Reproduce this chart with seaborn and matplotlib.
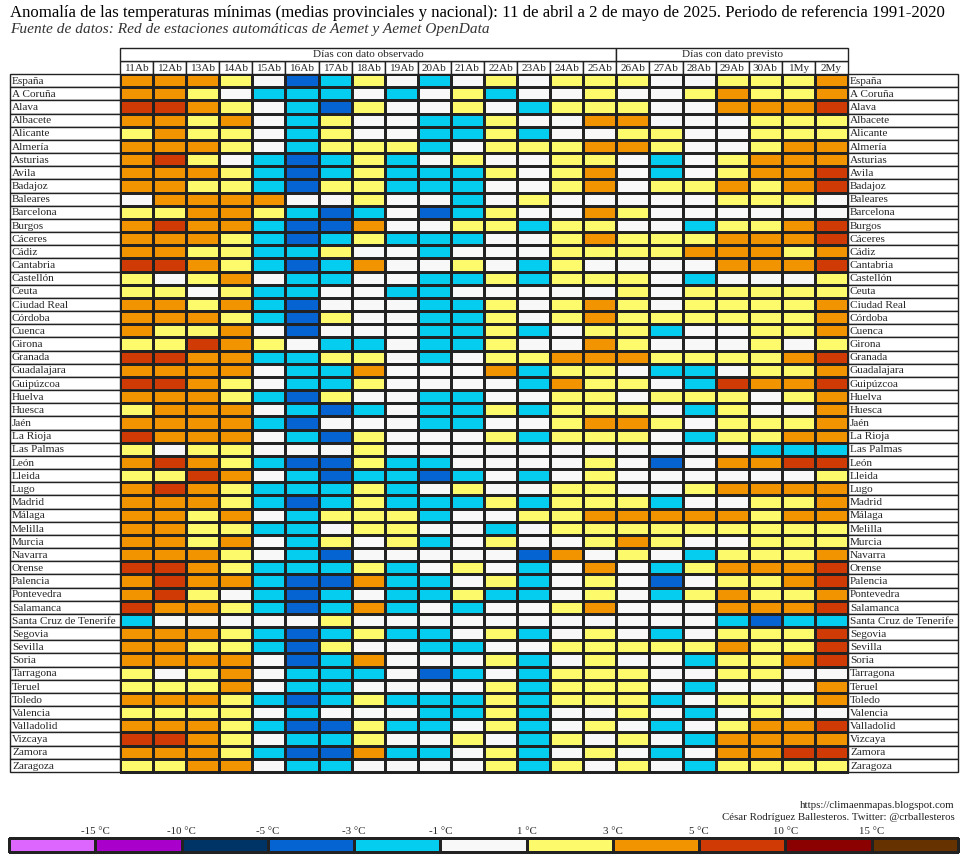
import matplotlib
matplotlib.use("Agg")
import matplotlib.pyplot as plt
from matplotlib.colors import ListedColormap, BoundaryNorm
from matplotlib.patches import Rectangle
import numpy as np
import pandas as pd
import seaborn as sns

sns.set_style("white")
plt.rcParams['font.family'] = ['Liberation Serif', 'DejaVu Serif']

# ---------------- data ----------------
days = ["11Ab", "12Ab", "13Ab", "14Ab", "15Ab", "16Ab", "17Ab", "18Ab", "19Ab", "20Ab",
        "21Ab", "22Ab", "23Ab", "24Ab", "25Ab", "26Ab", "27Ab", "28Ab", "29Ab", "30Ab",
        "1My", "2My"]
n_observed = 15

provinces = ["España", "A Coruña", "Alava", "Albacete", "Alicante", "Almería", "Asturias",
             "Avila", "Badajoz", "Baleares", "Barcelona", "Burgos", "Cáceres", "Cádiz",
             "Cantabria", "Castellón", "Ceuta", "Ciudad Real", "Córdoba", "Cuenca", "Girona",
             "Granada", "Guadalajara", "Guipúzcoa", "Huelva", "Huesca", "Jaén", "La Rioja",
             "Las Palmas", "León", "Lleida", "Lugo", "Madrid", "Málaga", "Melilla", "Murcia",
             "Navarra", "Orense", "Palencia", "Pontevedra", "Salamanca",
             "Santa Cruz de Tenerife", "Segovia", "Sevilla", "Soria", "Tarragona", "Teruel",
             "Toledo", "Valencia", "Valladolid", "Vizcaya", "Zamora", "Zaragoza"]

# anomaly class per cell (B=-5..-3, C=-3..-1, W=-1..1, Y=1..3, O=3..5, R=5..10)
anomaly_codes = [
    "OOOYWBCYWCW" + "YWYYYWWYYYO",  # España
    "OOYWCCCWCWY" + "CWWYWWYOYYO",  # A Coruña
    "RROYWCBYWWY" + "WCYYYWWOOOR",  # Alava
    "OOYOWCYWWCC" + "YWWOOWWWYYY",  # Albacete
    "YOYYWCYWWCC" + "YCWWYYWWYYY",  # Alicante
    "OOOYWCYYYCW" + "YYYOOYWWYOO",  # Almería
    "ORYWCBCYCWY" + "WWYYWCWYOOO",  # Asturias
    "OOOYCBCYCCC" + "YWYOWCWYOOR",  # Avila
    "OOYYCBYYCCC" + "WWYOWYYOYOR",  # Badajoz
    "WOOOOWWYWWC" + "WYWWWWWYYYW",  # Baleares
    "YYOOYCBCWBC" + "YWWOYWWWWWW",  # Barcelona
    "OROOCBBOWWY" + "YCYYWWCYYOR",  # Burgos
    "OOOYCBCYCCC" + "WWYOYYYOOOR",  # Cáceres
    "OOYYCCYWWCW" + "WWYYYYOOOYO",  # Cádiz
    "RROYCBCOWWY" + "WCYWWWWOOOR",  # Cantabria
    "YWYOWCCWWCC" + "YCYYYWCWWWY",  # Castellón
    "YYWYCCWWCCW" + "WWWWYWYYYYY",  # Ceuta
    "OOYOCBWWWCC" + "YWYOYWYYYYO",  # Ciudad Real
    "OOOYCBYWWCC" + "YWYOYYYYYYO",  # Córdoba
    "OYYOWBWWWCC" + "YCWYYCWWYYO",  # Cuenca
    "YYROYWCCWCC" + "YWWOYWWWYWY",  # Girona
    "RROOCCYYWCW" + "YYOOOYYYYOR",  # Granada
    "OOOOWCCOWWW" + "OCYYWCCWYYO",  # Guadalajara
    "RROYWCCYWWW" + "WCOYYWCROOR",  # Guipúzcoa
    "OOOYCBYWWCC" + "WWYYWYYYWYO",  # Huelva
    "YOOOWCBCWCC" + "YCYYYWCYWWO",  # Huesca
    "OOOOCBWWWCC" + "WWYOOYWYYYO",  # Jaén
    "ROOOWCBYWWW" + "YCYYYWCYYOO",  # La Rioja
    "YWYYWWWYWWW" + "WWWWWWWWCCC",  # Las Palmas
    "OROYCBBYCCW" + "WWWYWBWOORR",  # León
    "YYROWCBCCBC" + "WCWYWWWWWWY",  # Lleida
    "OROYCCCYCWY" + "WWYYWWYOOOO",  # Lugo
    "OOOYCBCYCCC" + "YCYYYCWWYYO",  # Madrid
    "OOYOWCYYYCW" + "WYYOOOOOYOO",  # Málaga
    "OOYYCCWYYWW" + "CWYYYYYYYYY",  # Melilla
    "OOYOWCYWYCW" + "YWWYOYWWYYY",  # Murcia
    "OOOYWCBWWWW" + "WBOWYWCYYYO",  # Navarra
    "RROYCCCYCWY" + "WCWOWCYOOOR",  # Orense
    "OROOCBBOCCW" + "YCWYWBWYYOR",  # Palencia
    "ORYWCBCWCCY" + "CCWYWCYOYYO",  # Pontevedra
    "ROOYCBCOCWC" + "WWYOWWWOOOR",  # Salamanca
    "CWWWWWYWWWW" + "WWWWWWWCBCC",  # Santa Cruz de Tenerife
    "OOOYCBCYCCW" + "YCWYWCWYYYR",  # Segovia
    "OOYYCBYWWCC" + "WWYYYYYOYYR",  # Sevilla
    "OOOOWBCOWWW" + "YCWYWWCYYOR",  # Soria
    "YWYOWCCCWBC" + "WCYYYWWYYWW",  # Tarragona
    "YYYOWCCWWWW" + "YCYYYWCWWWO",  # Teruel
    "OOOYCBCYCCC" + "YCYYYCWYYYO",  # Toledo
    "YYYYWCWWWCC" + "YCWWYWCWYWW",  # Valencia
    "OOOYCBBYCCW" + "YCWYWCWYOOR",  # Valladolid
    "RROYWCCYWWY" + "WCYWYWCOOOO",  # Vizcaya
    "OOOYCBBOCCW" + "YCWYWCWOORR",  # Zamora
    "YYOOWCCWWWW" + "YCYWYWCYYYY",  # Zaragoza
]
code_value = {"B": -4.0, "C": -2.0, "W": 0.0, "Y": 2.0, "O": 4.0, "R": 7.0}

legend_bounds = [-15, -10, -5, -3, -1, 1, 3, 5, 10, 15]
legend_labels = ["-15 °C", "-10 °C", "-5 °C", "-3 °C", "-1 °C", "1 °C", "3 °C", "5 °C",
                 "10 °C", "15 °C"]
legend_values = [-20, -12, -7, -4, -2, 0, 2, 4, 7, 12, 20]
colors = ["#dd66ff", "#aa00cc", "#003366", "#0664d2", "#05cdf0", "#f8f8f8",
          "#fdfb6b", "#f29400", "#d03a05", "#8b0000", "#663300"]

# ---------------- build ----------------
values = np.array([[code_value[c] for c in row] for row in anomaly_codes])
df = pd.DataFrame(values, index=provinces, columns=days)

cmap = ListedColormap(colors)
norm = BoundaryNorm([-100] + legend_bounds + [100], ncolors=len(colors))

W, H = 967, 860
fig = plt.figure(figsize=(W / 100, H / 100), dpi=100)
fig.patch.set_facecolor("white")

x0, x1, y0, y1 = 120, 848, 74, 772
ax = fig.add_axes([x0 / W, 1 - y1 / H, (x1 - x0) / W, (y1 - y0) / H])
sns.heatmap(df, cmap=cmap, norm=norm, cbar=False, linewidths=1.0, linecolor="#222222",
            xticklabels=False, yticklabels=False, ax=ax)
ax.collections[0].set_clip_on(False)
ax.set_xlim(0, len(days))
ax.set_ylim(len(provinces), 0)
for s in ax.spines.values():
    s.set_visible(False)

colw = (x1 - x0) / len(days)
labw = 110 / colw
fs_lab = 8.1
edge = "#222222"

for i, name in enumerate(provinces):
    for xl in (-labw, len(days)):
        ax.add_patch(Rectangle((xl, i), labw, 1, facecolor="white", edgecolor=edge,
                               lw=1.0, clip_on=False, zorder=3))
    ax.text(-labw + 0.06, i + 0.55, name, ha="left", va="center", fontsize=fs_lab,
            clip_on=False, zorder=4)
    ax.text(len(days) + 0.06, i + 0.55, name, ha="left", va="center", fontsize=fs_lab,
            clip_on=False, zorder=4)

for j, d in enumerate(days):
    ax.add_patch(Rectangle((j, -1), 1, 1, facecolor="white", edgecolor=edge, lw=1.0,
                           clip_on=False, zorder=3))
    ax.text(j + 0.5, -0.45, d, ha="center", va="center", fontsize=fs_lab, clip_on=False,
            zorder=4)

groups = [(0, n_observed, "Días con dato observado"),
          (n_observed, len(days), "Días con dato previsto")]
for a, b, t in groups:
    ax.add_patch(Rectangle((a, -2), b - a, 1, facecolor="white", edgecolor=edge, lw=1.0,
                           clip_on=False, zorder=3))
    ax.text((a + b) / 2, -1.45, t, ha="center", va="center", fontsize=fs_lab,
            clip_on=False, zorder=4)

fig.text(10 / W, 1 - 13 / H,
         "Anomalía de las temperaturas mínimas (medias provinciales y nacional): 11 de abril "
         "a 2 de mayo de 2025. Periodo de referencia 1991-2020",
         ha="left", va="center", fontsize=12.1, color="black")
fig.text(10 / W, 1 - 30 / H,
         "Fuente de datos: Red de estaciones automáticas de Aemet y Aemet OpenData",
         ha="left", va="center", fontsize=11.1, style="italic", color="#333333")

fig.text(955 / W, 1 - 805 / H, "https://climaenmapas.blogspot.com", ha="right",
         va="center", fontsize=7.8, color="#222222")
fig.text(955 / W, 1 - 818 / H, "César Rodríguez Ballesteros. Twitter: @crballesteros",
         ha="right", va="center", fontsize=7.8, color="#222222")

# legend
lx0, lx1, ly0, ly1 = 9, 958, 838, 852
lax = fig.add_axes([lx0 / W, 1 - ly1 / H, (lx1 - lx0) / W, (ly1 - ly0) / H])
sns.heatmap(pd.DataFrame([legend_values]), cmap=cmap, norm=norm, cbar=False,
            linewidths=1.0, linecolor="#222222", xticklabels=False, yticklabels=False,
            ax=lax)
lax.collections[0].set_clip_on(False)
for s in lax.spines.values():
    s.set_visible(False)
for k, lab in enumerate(legend_labels):
    lax.text(k + 1, -0.45, lab, ha="center", va="center", fontsize=7.8, clip_on=False)

fig.savefig("out.png", dpi=100, facecolor="white")
